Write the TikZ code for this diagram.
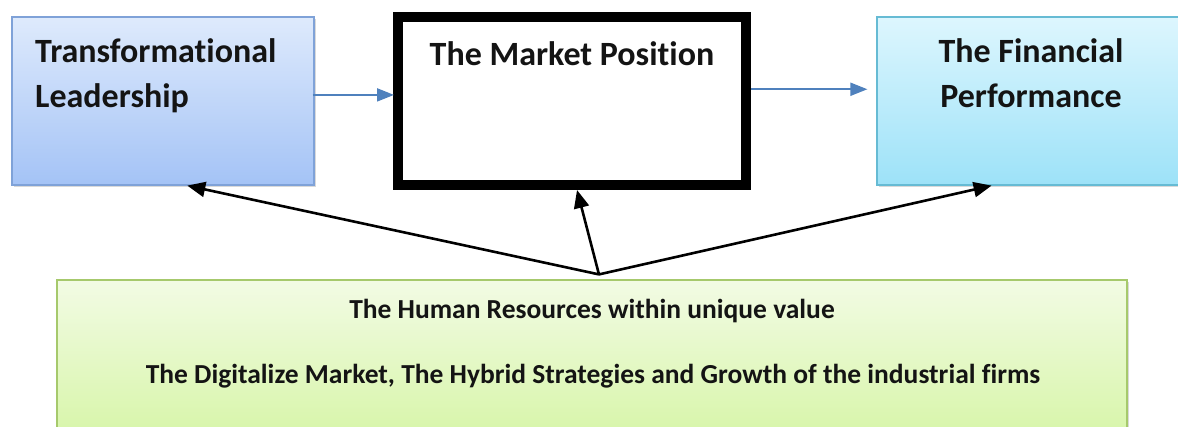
\documentclass[tikz,border=0pt]{standalone}
\usepackage{fontspec}
\setmainfont[Ligatures=NoCommon]{Carlito}
\usetikzlibrary{arrows.meta,calc,shadows}

\definecolor{leadtop}{HTML}{DEEAFC}
\definecolor{leadbot}{HTML}{A4C3F6}
\definecolor{leadline}{HTML}{7FA2D8}
\definecolor{fintop}{HTML}{DDF6FE}
\definecolor{finbot}{HTML}{9DE2F8}
\definecolor{finline}{HTML}{66BBD4}
\definecolor{hrtop}{HTML}{F2FBE4}
\definecolor{hrbot}{HTML}{D5F5A4}
\definecolor{hrline}{HTML}{A6C96C}
\definecolor{flowblue}{HTML}{4F81BD}

\tikzset{
  softshadow/.style={drop shadow={shadow xshift=2pt,shadow yshift=-2pt,opacity=0.25,fill=black!60}},
  gradbox/.style={rectangle, line width=1.2pt, softshadow},
  bigtext/.style={inner sep=0pt, font=\fontsize{34}{45}\selectfont\bfseries, text=black!92},
  smalltext/.style={inner sep=0pt, font=\fontsize{27.5}{32}\selectfont\bfseries, text=black!92},
  blueflow/.style={draw=flowblue, line width=2pt, -{Triangle[length=17pt,width=13pt]}},
  blackflow/.style={draw=black, line width=2.6pt, -{Triangle[length=18pt,width=15pt]}},
}

\begin{document}
\begin{tikzpicture}[x=1pt,y=-1pt]
  \useasboundingbox (0,0) rectangle (1178,426);
  \clip (0,0) rectangle (1178,426);

  % the three boxes of the upper row
  \node[gradbox, draw=leadline, top color=leadtop, bottom color=leadbot,
        minimum width=302pt, minimum height=168pt] (lead) at (163,101) {};
  \node[rectangle, draw=black, line width=10pt, fill=white,
        minimum width=348pt, minimum height=168pt] (market) at (572,101) {};
  \node[gradbox, draw=finline, top color=fintop, bottom color=finbot,
        minimum width=302pt, minimum height=168pt] (fin) at (1028,101) {};

  % the wide box underneath
  \node[gradbox, draw=hrline, top color=hrtop, bottom color=hrbot,
        minimum width=1070pt, minimum height=170pt] (hr) at (592,365) {};

  % labels
  \node[bigtext, anchor=base west] (leadtxt) at (35,62) {Transformational};
  \node[bigtext, anchor=base west] (leadtxt2) at (35,107) {Leadership};
  \node[bigtext, anchor=base] (markettxt) at (572,65) {The Market Position};
  \node[bigtext, anchor=base] (fintxt) at (1031,62) {The Financial};
  \node[bigtext, anchor=base] (fintxt2) at (1031,107) {Performance};
  \node[smalltext, anchor=base] (hrtxt) at (592,318) {The Human Resources within unique value};
  \node[smalltext, anchor=base] (hrtxt2) at (593,383) {The Digitalize Market, The Hybrid Strategies and Growth of the industrial firms};

  % flow along the upper row
  \coordinate (a1) at ($(lead.north east)!0.464!(lead.south east)$);
  \draw[blueflow] ([xshift=-2pt]a1) -- ([xshift=1pt]market.west |- a1);
  \coordinate (a2) at ($(market.north east)!0.434!(market.south east)$);
  \draw[blueflow] (a2) -- ([xshift=-9pt]fin.west |- a2);

  % influences from the lower box
  \coordinate (hub) at ($(hr.north west)!0.5065!(hr.north east)+(0,-5)$);
  \draw[blackflow] (hub) -- ($(lead.south west)!0.58!(lead.south east)$);
  \draw[blackflow] (hub) -- ($(market.south west)!0.514!(market.south east)$);
  \draw[blackflow] (hub) -- ($(fin.south west)!0.38!(fin.south east)$);
\end{tikzpicture}
\end{document}
